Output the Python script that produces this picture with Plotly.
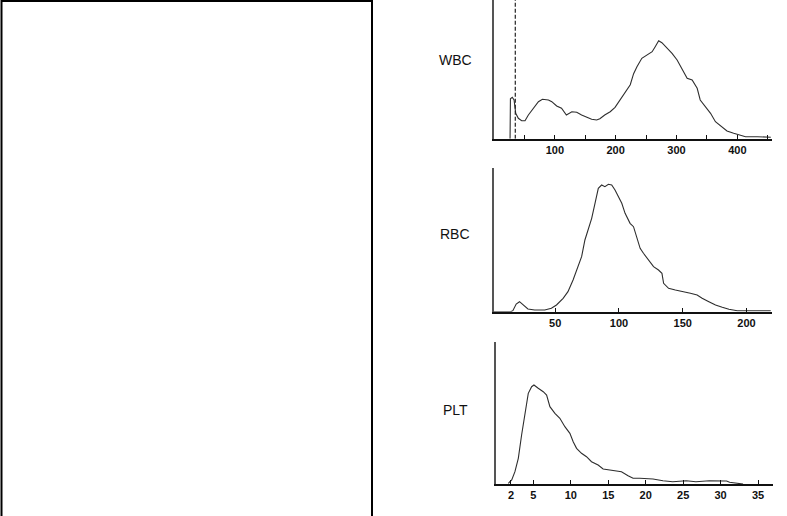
import plotly.graph_objects as go

W, H = 787, 516

# ---------------- data ----------------
wbc_x = [26.4, 27, 30, 33, 35.7, 40, 45.5, 51, 56.5, 64.7, 73, 79.6, 89.5, 95, 103, 111, 119, 128, 136,
         144, 152, 160.5, 168.7, 174, 182, 191, 199, 207, 215.5, 224, 229.5, 235, 243, 251.5, 260, 265,
         270.7, 276, 284.5, 292.7, 301, 309, 317.5, 325.7, 334, 339, 347.6, 356, 364, 372, 383, 394, 405,
         413.5, 433, 455]
wbc_y = [0, 40, 41.4, 38.7, 25.4, 20.4, 18, 18, 23.7, 30.4, 37, 39.4, 38.7, 37, 32.7, 30.4, 23.7, 27, 26.4,
         23.7, 22, 19.4, 18.7, 20, 23.7, 27, 31.4, 38.7, 45.4, 54, 65, 72, 80.4, 83.7, 87, 92,
         98, 96, 90.4, 85.4, 78.7, 70.4, 60.4, 58.7, 50.4, 38.7, 32, 25.4, 17, 12.7, 7.7, 5.4, 3.7,
         2, 2, 1.4]
wbc_threshold = 35
wbc_ticks = [50, 100, 150, 200, 250, 300, 350, 400, 450]
wbc_ticktext = ["", "100", "", "200", "", "300", "", "400", ""]

rbc_x = [2, 15, 16.8, 19.4, 22, 24.7, 28.6, 33.9, 41.8, 47, 51, 56.2, 60, 64, 68, 70.7, 73.3, 75.9, 78.6,
         81.2, 83.8, 86.4, 89, 91.7, 94.3, 96.9, 99.5, 102.2, 104.8, 108.7, 111.4, 114, 116.6, 119.2,
         123.2, 127.1, 131, 133.7, 135, 138.9, 144.2, 148.1, 152.1, 156, 161.3, 165.2, 170.5, 175.7,
         181, 186.2, 192.8, 203, 219]
rbc_y = [0, 0, 1, 7.7, 10, 6.7, 2.7, 1.7, 1.7, 3.4, 6.7, 13.4, 20, 31.7, 45, 55, 71.7, 81.7, 93.4,
         108.4, 123.4, 126.7, 125, 127.4, 126.7, 121.7, 115, 108.4, 98.4, 88.4, 85, 75, 63.4, 58.4,
         51.7, 45, 41.7, 38.4, 28.4, 23.4, 21.7, 20.7, 20, 18.4, 16.7, 13.4, 10, 6.7,
         4.4, 2.4, 1, 1, 1]
rbc_ticks = [50, 100, 150, 200]

plt_x = [1.64, 2.1, 2.53, 2.98, 3.42, 3.87, 4.31, 4.76, 5.07, 5.64, 6.31, 6.76, 7.2, 7.87, 8.53, 9.2,
         9.87, 10.31, 10.76, 11.42, 12.09, 12.76, 13.64, 14.31, 15.2, 16.09, 16.76, 17.64, 18.31,
         19.2, 20.97, 22.3, 23.6, 25.4, 26.7, 28.5, 30.8, 31.2, 32.5, 33]
plt_y = [0.7, 4, 12.3, 25.7, 49, 72.3, 90.7, 97.3, 99, 95.7, 92.3, 89, 77.3, 70.7, 65.7, 57.3,
         50.7, 42.3, 35.7, 30.7, 27.3, 22.3, 19, 15, 14, 13, 12.3, 8.3, 5.7,
         5.7, 5, 3.3, 2.3, 3.3, 2.3, 3.3, 3, 1.7, 0.7, 0]
plt_ticks = [2, 5, 10, 15, 20, 25, 30, 35]

labels = ["WBC", "RBC", "PLT"]

# ---------------- layout helpers (pixel -> paper) ----------------
def px(x):
    return x / W

def py(y):
    return 1 - y / H

curve_col = "#2e2e2e"
fig = go.Figure()

fig.add_trace(go.Scatter(x=wbc_x, y=wbc_y, mode="lines", line=dict(color=curve_col, width=1.1),
                         xaxis="x", yaxis="y", showlegend=False, hoverinfo="skip"))
fig.add_trace(go.Scatter(x=[wbc_threshold, wbc_threshold], y=[0, 139], mode="lines",
                         line=dict(color="#222", width=1.2, dash="4px,2px"),
                         xaxis="x", yaxis="y", showlegend=False, hoverinfo="skip"))
fig.add_trace(go.Scatter(x=rbc_x, y=rbc_y, mode="lines", line=dict(color=curve_col, width=1.1),
                         xaxis="x2", yaxis="y2", showlegend=False, hoverinfo="skip"))
fig.add_trace(go.Scatter(x=plt_x, y=plt_y, mode="lines", line=dict(color=curve_col, width=1.1),
                         xaxis="x3", yaxis="y3", showlegend=False, hoverinfo="skip"))

tickfont = dict(family="Liberation Sans", size=11, color="#111", weight="bold")

def xax(domain, rng, tv, tt, anchor):
    return dict(domain=domain, range=rng, anchor=anchor, showgrid=False, zeroline=False,
                showline=True, linecolor="#111", linewidth=1.5,
                ticks="inside", ticklen=4, tickwidth=1, tickcolor="#111",
                tickmode="array", tickvals=tv, ticktext=tt, tickfont=tickfont)

def yax(domain, rng, anchor):
    return dict(domain=domain, range=rng, anchor=anchor, showgrid=False, zeroline=False,
                showline=True, linecolor="#555", linewidth=1.5, showticklabels=False, ticks="")

layout = dict(
    width=W, height=H, margin=dict(l=0, r=0, t=0, b=0),
    paper_bgcolor="white", plot_bgcolor="white",
    xaxis=xax([px(494), px(772)], [0, 457], wbc_ticks, wbc_ticktext, "y"),
    yaxis=yax([py(138.7), py(0)], [0, 138.7], "x"),
    xaxis2=xax([px(494), px(772)], [2, 220], rbc_ticks, [str(v) for v in rbc_ticks], "y2"),
    yaxis2=yax([py(311.7), py(168.3)], [0, 143.4], "x2"),
    xaxis3=xax([px(496), px(773)], [0, 37], plt_ticks, [str(v) for v in plt_ticks], "y3"),
    yaxis3=yax([py(484), py(341.7)], [0, 142.3], "x3"),
)
fig.update_layout(**layout)

# side labels
for lab, yc in zip(labels, [60.5, 234, 410]):
    fig.add_annotation(text=lab, xref="paper", yref="paper", x=px(455), y=py(yc),
                       showarrow=False, xanchor="center", yanchor="middle",
                       font=dict(family="Liberation Sans", size=14, color="#111"))

# empty framed panel on the left
box = dict(type="path", xref="paper", yref="paper",
           path=f"M {px(1.5)} {py(H + 5)} L {px(1.5)} {py(1)} L {px(372)} {py(1)} L {px(372)} {py(H + 5)}",
           line=dict(color="black", width=2))
fig.add_shape(**box)

fig.write_html("out.html", config={"displayModeBar": False},
               post_script="document.body.style.margin='0';document.body.style.overflow='hidden';")
